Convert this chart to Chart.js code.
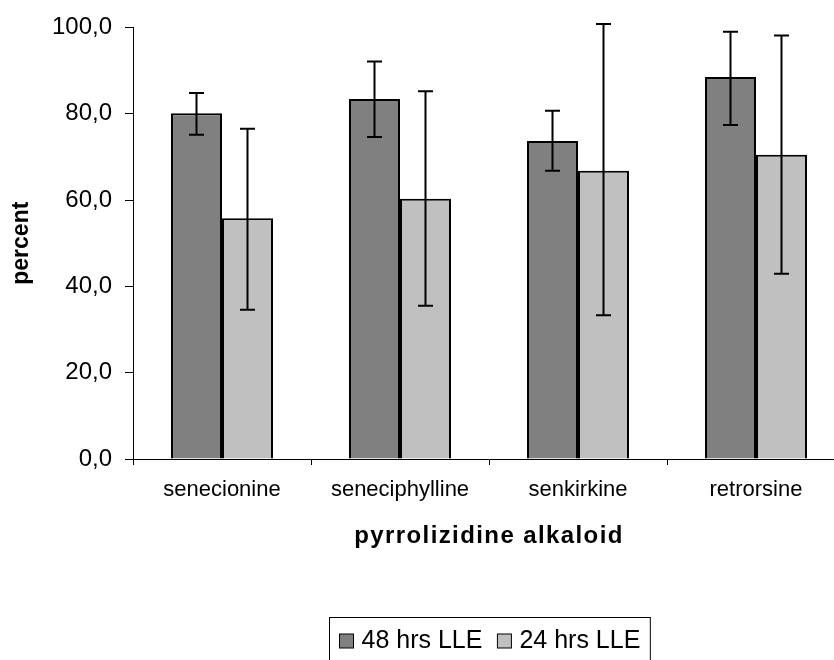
<!DOCTYPE html>
<html>
<head>
<meta charset="utf-8">
<script src="https://cdn.jsdelivr.net/npm/chart.js@4.4.1/dist/chart.umd.min.js"></script>
<style>
  html, body { margin: 0; padding: 0; background: #fff; overflow: hidden; }
  #wrap { width: 860px; height: 660px; }
</style>
</head>
<body>
<div id="wrap"><canvas id="alkaloidChart" width="860" height="660"></canvas></div>
<script>
const categories = ['senecionine', 'seneciphylline', 'senkirkine', 'retrorsine'];
const seriesNames = ['48 hrs LLE', '24 hrs LLE'];

const lle48 = [80.1, 83.4, 73.7, 88.5];
const lle48Low = [75.1, 74.6, 66.8, 77.4];
const lle48High = [84.8, 92.1, 80.7, 99.0];

const lle24 = [55.8, 60.3, 66.8, 70.5];
const lle24Low = [34.6, 35.5, 33.3, 42.9];
const lle24High = [76.5, 85.2, 100.8, 98.1];

const yTicks = [0, 20, 40, 60, 80, 100];

const FONT = '"Liberation Sans", Arial, sans-serif';

// error bars: whiskers from low to high with small caps
const errorBars = {
    id: 'errorBars',
    afterDatasetsDraw(chart) {
        const ctx = chart.ctx;
        const y = chart.scales.y;
        ctx.save();
        ctx.strokeStyle = '#000';
        ctx.lineWidth = 2;
        chart.data.datasets.forEach((ds, i) => {
            const meta = chart.getDatasetMeta(i);
            meta.data.forEach((bar, j) => {
                const top = y.getPixelForValue(ds.errHigh[j]);
                const bot = y.getPixelForValue(ds.errLow[j]);
                const x = bar.x;
                ctx.beginPath();
                ctx.moveTo(x, top); ctx.lineTo(x, bot);
                ctx.moveTo(x - 7.5, top); ctx.lineTo(x + 7.5, top);
                ctx.moveTo(x - 7.5, bot); ctx.lineTo(x + 7.5, bot);
                ctx.stroke();
            });
        });
        ctx.restore();
    }
};

// the x title in the original is spaced out a little
const spacedTitle = {
    id: 'spacedTitle',
    afterLayout(chart) {
        const s = chart.scales.x;
        if (s._spaced) return;
        const orig = s.drawTitle.bind(s);
        s.drawTitle = function () {
            this.ctx.save();
            this.ctx.letterSpacing = '1.4px';
            orig();
            this.ctx.restore();
        };
        s._spaced = true;
    }
};

// boxed legend under the axis title
const boxLegend = {
    id: 'boxLegend',
    afterDraw(chart) {
        const ctx = chart.ctx;
        const area = chart.chartArea;
        ctx.save();
        ctx.font = '25px ' + FONT;
        ctx.textBaseline = 'alphabetic';
        const sq = 14, gap = 8, itemGap = 15, pad = 10;
        const items = chart.data.datasets.map(ds => ({
            label: ds.label, color: ds.backgroundColor, w: ctx.measureText(ds.label).width
        }));
        let total = pad * 2;
        items.forEach((it, k) => { total += sq + gap + it.w + (k ? itemGap : 0); });
        const cx = (area.left + area.right) / 2;
        let x = Math.round(cx - total / 2) + 0.5;
        const boxTop = 617.5;
        ctx.strokeStyle = '#000';
        ctx.lineWidth = 1;
        ctx.strokeRect(x, boxTop, total, 50);
        x += pad;
        const base = 648;
        items.forEach((it, k) => {
            if (k) x += itemGap;
            ctx.fillStyle = it.color;
            ctx.fillRect(x, base - sq, sq, sq);
            ctx.strokeRect(x, base - sq, sq, sq);
            x += sq + gap;
            ctx.fillStyle = '#000';
            ctx.fillText(it.label, x, base);
            x += it.w;
        });
        ctx.restore();
    }
};

const ctx = document.getElementById('alkaloidChart').getContext('2d');
new Chart(ctx, {
    type: 'bar',
    data: {
        labels: categories,
        datasets: [
            {
                label: seriesNames[0],
                data: lle48,
                errLow: lle48Low,
                errHigh: lle48High,
                backgroundColor: '#808080',
                borderColor: '#000',
                borderWidth: 2
            },
            {
                label: seriesNames[1],
                data: lle24,
                errLow: lle24Low,
                errHigh: lle24High,
                backgroundColor: '#c0c0c0',
                borderColor: '#000',
                borderWidth: 2
            }
        ]
    },
    options: {
        responsive: false,
        animation: false,
        maintainAspectRatio: false,
        layout: { padding: { top: 25, right: 15, bottom: 109, left: 0 } },
        datasets: { bar: { barPercentage: 1, categoryPercentage: 0.573 } },
        plugins: {
            legend: { display: false },
            tooltip: { enabled: false }
        },
        scales: {
            x: {
                afterFit: s => { s.height = 92; },
                grid: { offset: true, drawOnChartArea: false, tickLength: 6, color: '#000' },
                border: { color: '#000', width: 1 },
                ticks: { color: '#000', padding: 12, font: { family: FONT, size: 22 } },
                title: {
                    display: true,
                    text: 'pyrrolizidine alkaloid',
                    color: '#000',
                    padding: { top: 0, bottom: 0 },
                    font: { family: FONT, size: 24, weight: 'bold' }
                }
            },
            y: {
                min: 0,
                max: 100,
                afterFit: s => { s.width = 133; },
                afterBuildTicks: s => { s.ticks = yTicks.map(v => ({ value: v })); },
                grid: { drawOnChartArea: false, tickLength: 8, color: '#000' },
                border: { color: '#000', width: 1 },
                ticks: {
                    color: '#000',
                    padding: 13,
                    font: { family: FONT, size: 24 },
                    callback: v => v.toFixed(1).replace('.', ',')
                },
                title: {
                    display: true,
                    text: 'percent',
                    color: '#000',
                    padding: { top: 8, bottom: 0 },
                    font: { family: FONT, size: 23, weight: 'bold' }
                }
            }
        }
    },
    plugins: [spacedTitle, errorBars, boxLegend]
});
</script>
</body>
</html>
